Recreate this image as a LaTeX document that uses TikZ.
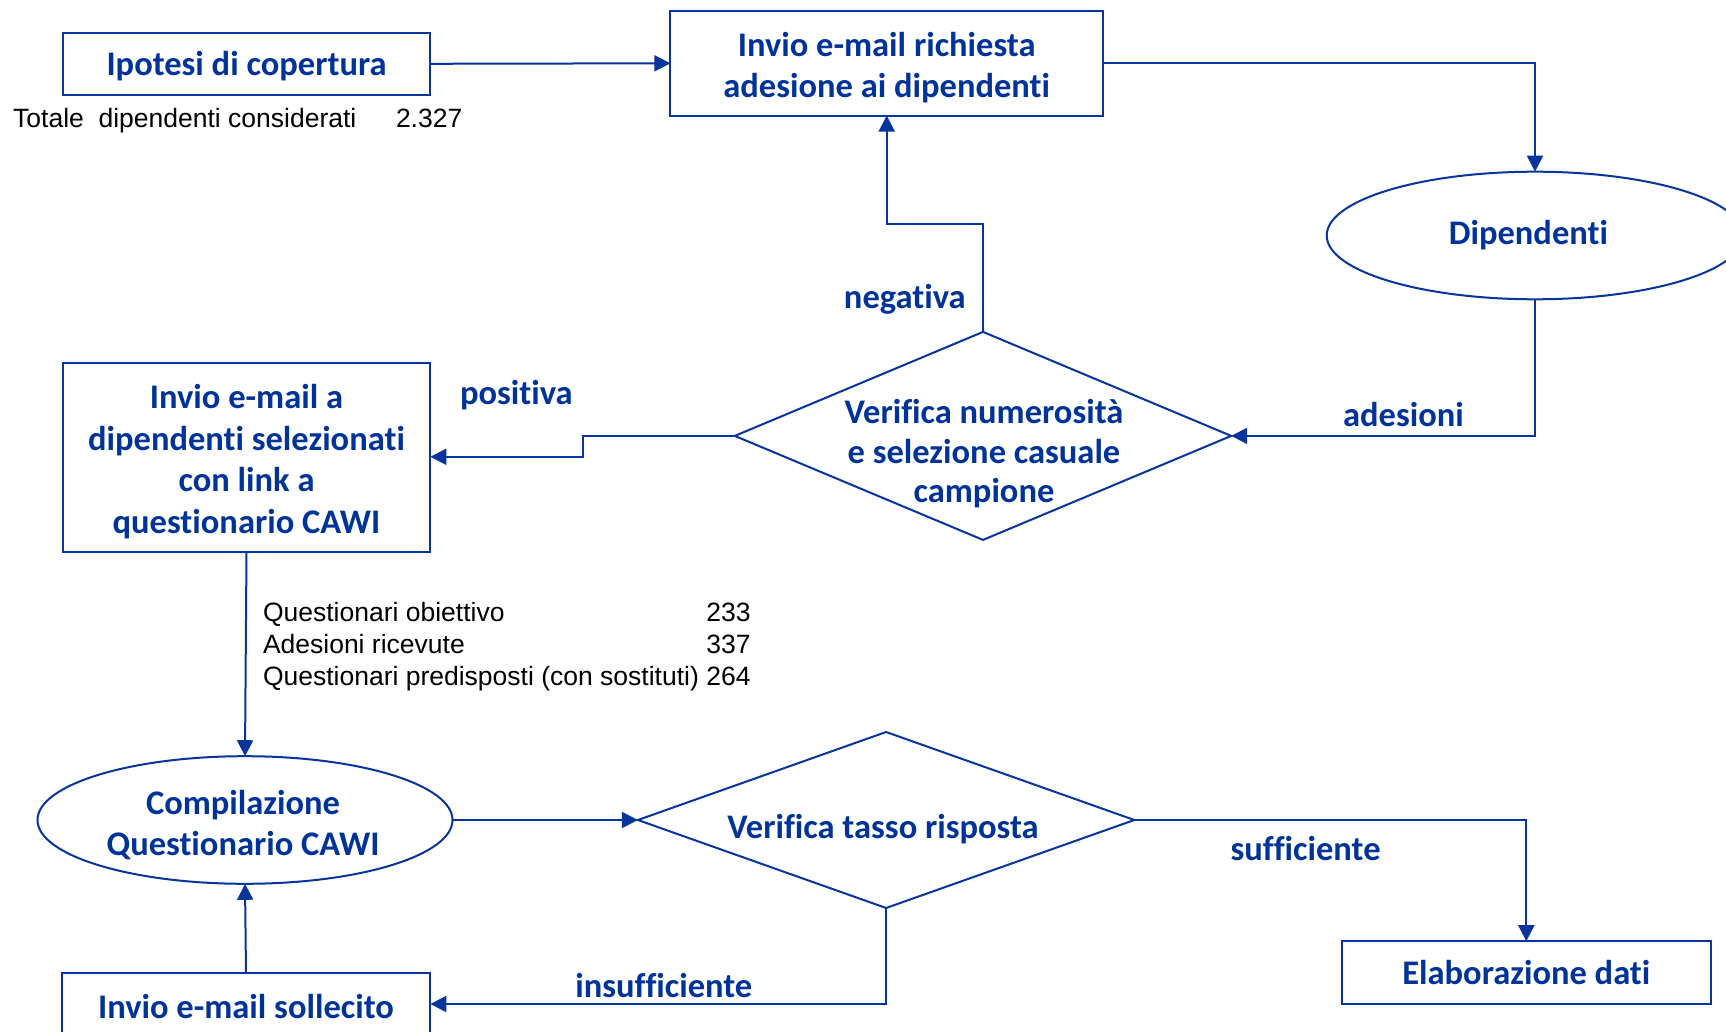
\documentclass[tikz,border=0pt]{standalone}
\usepackage{fontspec}
\setmainfont{Liberation Sans}
\newfontfamily\calfont[Ligatures={NoCommon}]{Carlito}
\usetikzlibrary{shapes.geometric,arrows.meta}
\definecolor{tblue}{RGB}{0,51,153}
\definecolor{lblue}{RGB}{8,52,158}
\begin{document}
\begin{tikzpicture}[x=1pt,y=-1pt,
  every node/.style={inner sep=0pt,outer sep=0pt},
  lbl/.style={font=\calfont\bfseries\fontsize{34.5}{41}\selectfont,text=tblue,align=center},
  boxn/.style={draw=lblue,line width=2pt,rectangle},
  elli/.style={draw=lblue,line width=2pt,ellipse},
  diam/.style={draw=lblue,line width=2pt,diamond},
  plain/.style={font=\fontsize{26.5}{32}\selectfont,text=black},
  conn/.style={draw=lblue,line width=2pt},
  arr/.style={conn,-{Triangle[length=16pt,width=16pt]}}]
\clip (0,0) rectangle (1726,1032);
\fill[white] (0,0) rectangle (1726,1032);

% shapes
\node[boxn,minimum width=367.7,minimum height=61.7] (ipo) at (246.5,63.8) {};
\node[boxn,minimum width=432.6,minimum height=104.6] (ric) at (886.7,63.3) {};
\node[elli,minimum width=416.6,minimum height=127.6] (dip) at (1535,235.5) {};
\node[diam,minimum width=496.4,minimum height=208] (d1) at (983,435.9) {};
\node[boxn,minimum width=367.7,minimum height=188.2] (sel) at (246.5,457.4) {};
\node[elli,minimum width=415,minimum height=127.6] (comp) at (245,820) {};
\node[diam,minimum width=496.4,minimum height=176] (d2) at (886.1,820) {};
\node[boxn,minimum width=368.7,minimum height=62.8] (elab) at (1526.3,972.6) {};
\node[boxn,minimum width=368.8,minimum height=62] (sol) at (246,1004) {};

% texts in shapes
\node[lbl] (ipot) at (246.5,66) {Ipotesi di copertura};
\node[lbl] (rict) at (886.7,67.7) {Invio e-mail richiesta\\adesione ai dipendenti};
\node[lbl] (dipt) at (1528.4,235.5) {Dipendenti};
\node[lbl,font=\calfont\bfseries\fontsize{34.5}{39.6}\selectfont] (d1t) at (984,454) {Verifica numerosità\\e selezione casuale\\campione};
\node[lbl,font=\calfont\bfseries\fontsize{34.5}{41.5}\selectfont] (selt) at (246.5,461.5) {Invio e-mail a\\dipendenti selezionati\\con link a\\questionario CAWI};
\node[lbl] (compt) at (243,825.5) {Compilazione\\Questionario CAWI};
\node[lbl] (d2t) at (883,829.5) {Verifica tasso risposta};
\node[lbl] (elabt) at (1526.3,972.6) {Elaborazione dati};
\node[lbl] (solt) at (246,1006.5) {Invio e-mail sollecito};

% plain texts
\node[plain,anchor=base west] (tot) at (13.2,128) {Totale\ \ dipendenti considerati};
\node[plain,anchor=base west] (totn) at (396,128) {2.327};
\node[plain,anchor=base west] (s1) at (263,621.5) {Questionari obiettivo};
\node[plain,anchor=base west] (s2) at (263,653.5) {Adesioni ricevute};
\node[plain,anchor=base west] (s3) at (263,685.5) {Questionari predisposti (con sostituti)};
\node[plain,anchor=base east] (n1) at (750.5,621.5) {233};
\node[plain,anchor=base east] (n2) at (750.5,653.5) {337};
\node[plain,anchor=base east] (n3) at (750.5,685.5) {264};

% labels
\node[lbl] (lneg) at (904.8,299.4) {negativa};
\node[lbl] (lpos) at (516.3,395.2) {positiva};
\node[lbl] (lade) at (1403.5,415) {adesioni};
\node[lbl] (lsuf) at (1305.6,848.7) {sufficiente};
\node[lbl] (lins) at (663.8,985.2) {insufficiente};

% connectors
\draw[arr] (ipo.east) -- (ric.west);
\draw[arr] (ric.east) -| (dip.north);
\draw[arr] (dip.south) |- (d1.east);
\draw[arr] (d1.north) -- ++(0,-107.8) -| (ric.south);
\draw[arr] (d1.west) -- (583.4,435.9) -- (583.4,456.8) -- (sel.east |- 0,456.8);
\draw[arr] (sel.south) -- (comp.north);
\draw[arr] (comp.east) -- (d2.west);
\draw[arr] (d2.east) -| (elab.north);
\draw[arr] (d2.south) |- (sol.east);
\draw[arr] (sol.north) -- (comp.south);
\end{tikzpicture}
\end{document}
